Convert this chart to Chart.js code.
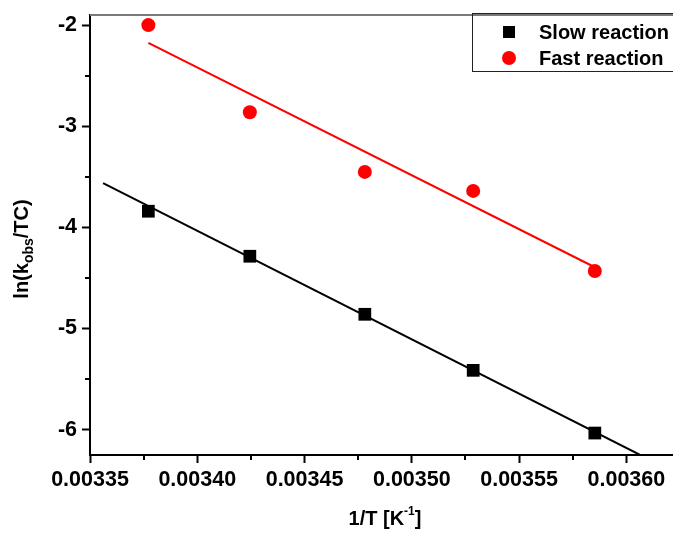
<!DOCTYPE html>
<html><head><meta charset="utf-8">
<script src="https://cdn.jsdelivr.net/npm/chart.js@4.4.1/dist/chart.umd.min.js"></script>
<style>
html,body{margin:0;padding:0;background:#fff;overflow:hidden;width:673px;height:534px}
#wrap{position:absolute;left:0;top:0;width:720px;height:534px}
</style>
</head><body><div id="wrap"><canvas id="c" width="720" height="534"></canvas></div>
<script>
// ---- data ----
const invT     = [0.0033772, 0.0034245, 0.0034781, 0.0035286, 0.0035853];
const slowLn   = [-3.840, -4.285, -4.859, -5.413, -6.033];
const fastLn   = [-2.000, -2.861, -3.451, -3.639, -4.431];
const slowFitX = [0.0033561, 0.0036062];
const slowFitY = [-3.563, -6.247];
const fastFitX = [0.0033772, 0.0035853];
const fastFitY = [-2.175, -4.394];
const seriesNames = ['Slow reaction', 'Fast reaction'];
const xTickVals = [0.00335, 0.00340, 0.00345, 0.00350, 0.00355, 0.00360];
const yTickVals = [-6, -5, -4, -3, -2];
const xMinorVals = [0.003375, 0.003425, 0.003475, 0.003525, 0.003575];
const yMinorVals = [-5.5, -4.5, -3.5, -2.5];
const xTitleParts = ['1/T [K', '-1', ']'];
const yTitleParts = ['ln(k', 'obs', '/TC)'];

const FONT = '"Liberation Sans", Arial, sans-serif';
Chart.defaults.font.family = FONT;
Chart.defaults.color = '#000';

const pts = (xs, ys) => xs.map((x, i) => ({x: x, y: ys[i]}));

const decor = {
  id: 'decor',
  afterDraw(chart) {
    const ctx = chart.ctx, a = chart.chartArea;
    const xs = chart.scales.x, ys = chart.scales.y;
    ctx.save();
    // top frame line
    ctx.strokeStyle = '#7a7a7a'; ctx.lineWidth = 2;
    ctx.beginPath(); ctx.moveTo(a.left, a.top); ctx.lineTo(a.right + 40, a.top); ctx.stroke();
    // minor ticks
    ctx.strokeStyle = '#000'; ctx.lineWidth = 2;
    xMinorVals.forEach(v => {
      const px = Math.round(xs.getPixelForValue(v));
      ctx.beginPath(); ctx.moveTo(px, a.bottom); ctx.lineTo(px, a.bottom + 5); ctx.stroke();
    });
    yMinorVals.forEach(v => {
      const py = Math.round(ys.getPixelForValue(v));
      ctx.beginPath(); ctx.moveTo(a.left, py); ctx.lineTo(a.left - 5, py); ctx.stroke();
    });
    // x title
    ctx.fillStyle = '#000'; ctx.textBaseline = 'middle'; ctx.textAlign = 'left';
    const fMain = 'bold 20px ' + FONT, fSmall = 'bold 12px ' + FONT;
    ctx.font = fMain; const w1 = ctx.measureText(xTitleParts[0]).width;
    const w3 = ctx.measureText(xTitleParts[2]).width;
    ctx.font = fSmall; const w2 = ctx.measureText(xTitleParts[1]).width;
    let x0 = (a.left + 680) / 2 - (w1 + w2 + w3) / 2, yT = 519;
    ctx.font = fMain; ctx.fillText(xTitleParts[0], x0, yT);
    ctx.font = fSmall; ctx.fillText(xTitleParts[1], x0 + w1, yT - 7);
    ctx.font = fMain; ctx.fillText(xTitleParts[2], x0 + w1 + w2, yT);
    // y title
    ctx.save();
    ctx.translate(22, 249); ctx.rotate(-Math.PI / 2);
    const fSub = 'bold 14px ' + FONT;
    ctx.font = fMain; const v1 = ctx.measureText(yTitleParts[0]).width;
    const v3 = ctx.measureText(yTitleParts[2]).width;
    ctx.font = fSub; const v2 = ctx.measureText(yTitleParts[1]).width;
    let s0 = -(v1 + v2 + v3) / 2;
    ctx.font = fMain; ctx.fillText(yTitleParts[0], s0, 0);
    ctx.font = fSub; ctx.fillText(yTitleParts[1], s0 + v1, 7);
    ctx.font = fMain; ctx.fillText(yTitleParts[2], s0 + v1 + v2, 0);
    ctx.restore();
    // legend
    const lx = 472, ly = 13, lh = 58;
    ctx.strokeStyle = '#222'; ctx.lineWidth = 1;
    ctx.strokeRect(lx + 0.5, ly + 0.5, 300, lh);
    const ds = chart.data.datasets;
    [0, 1].forEach((k, i) => {
      const d = ds[k];
      const cy = 32 + i * 26, cx = 509;
      ctx.fillStyle = d.backgroundColor;
      if (d.pointStyle === 'rect') { ctx.fillRect(cx - 6, cy - 6, 12, 12); }
      else { ctx.beginPath(); ctx.arc(cx, cy, 7, 0, Math.PI * 2); ctx.fill(); }
      ctx.fillStyle = '#000'; ctx.font = 'bold 20px ' + FONT;
      ctx.textAlign = 'left'; ctx.textBaseline = 'middle';
      ctx.fillText(d.label, 539, cy + 1);
    });
    ctx.restore();
  }
};

new Chart(document.getElementById('c'), {
  type: 'scatter',
  data: {
    datasets: [
      {label: seriesNames[0], data: pts(invT, slowLn), pointStyle: 'rect', pointRadius: 9,
       backgroundColor: '#000', borderColor: '#000', borderWidth: 0, order: 0},
      {label: seriesNames[1], data: pts(invT, fastLn), pointStyle: 'circle', pointRadius: 7,
       backgroundColor: '#ff0000', borderColor: '#ff0000', borderWidth: 0, order: 0},
      {label: 'slowFit', data: pts(slowFitX, slowFitY), showLine: true, pointRadius: 0,
       borderColor: '#000', borderWidth: 2, order: 1},
      {label: 'fastFit', data: pts(fastFitX, fastFitY), showLine: true, pointRadius: 0,
       borderColor: '#ff0000', borderWidth: 2, order: 1}
    ]
  },
  options: {
    responsive: false, animation: false,
    layout: {padding: {top: 15, right: 40, left: 0, bottom: 0}},
    plugins: {legend: {display: false}, tooltip: {enabled: false}},
    scales: {
      x: {
        type: 'linear', min: 0.00335, max: 0.003625,
        afterBuildTicks: s => { s.ticks = xTickVals.map(v => ({value: v})); },
        afterFit: s => { s.height = 79; s.paddingLeft = 0; s.paddingRight = 0; },
        ticks: {font: {size: 21.5, weight: 'bold'}, padding: 4, maxRotation: 0,
                callback: v => v.toFixed(5)},
        grid: {drawOnChartArea: false, drawTicks: true, tickLength: 8, tickWidth: 2, tickColor: '#000'},
        border: {color: '#000', width: 2},
        title: {display: false}
      },
      y: {
        type: 'linear', min: -6.25, max: -1.9,
        afterBuildTicks: s => { s.ticks = yTickVals.map(v => ({value: v})); },
        afterFit: s => { s.width = 90; s.paddingTop = 0; s.paddingBottom = 0; },
        ticks: {font: {size: 21.5, weight: 'bold'}, padding: 5, callback: v => String(v)},
        grid: {drawOnChartArea: false, drawTicks: true, tickLength: 8, tickWidth: 2, tickColor: '#000'},
        border: {color: '#000', width: 2},
        title: {display: false}
      }
    }
  },
  plugins: [decor]
});
</script></body></html>
